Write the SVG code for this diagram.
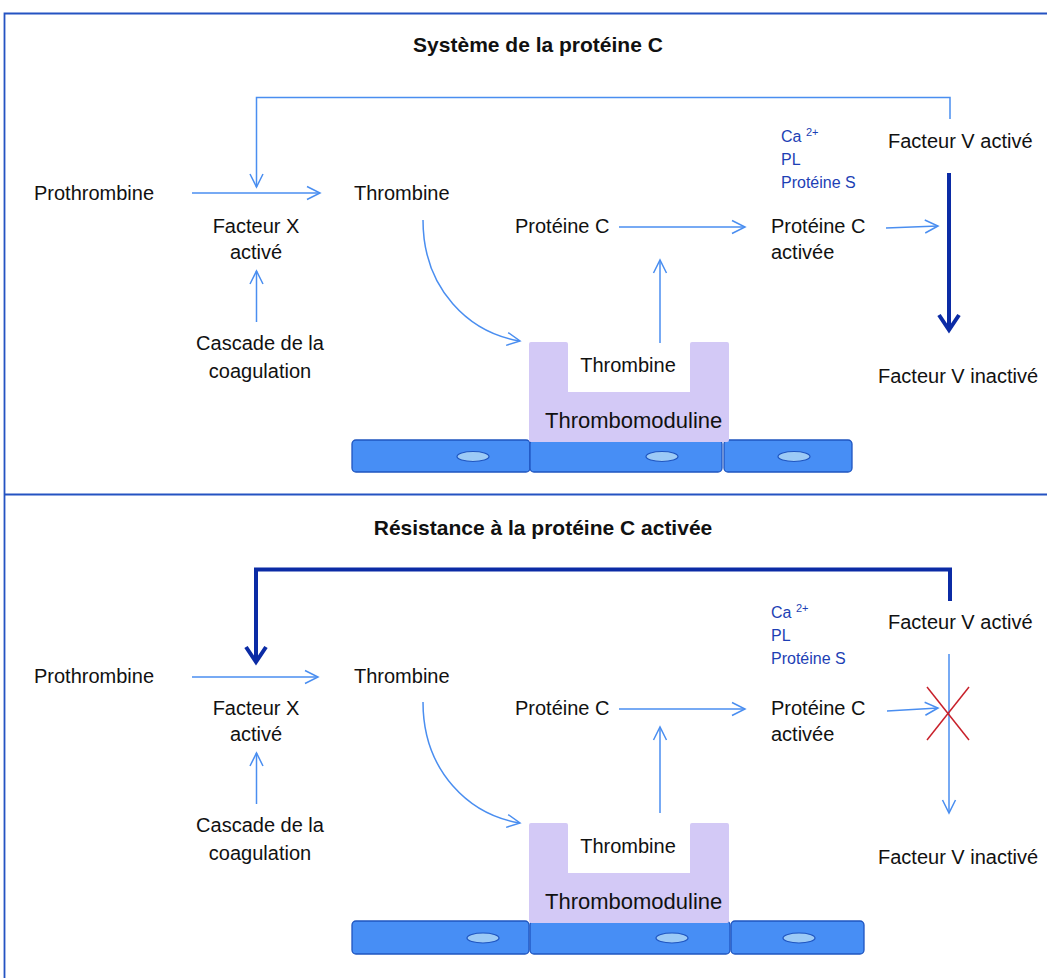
<svg xmlns="http://www.w3.org/2000/svg" width="1047" height="978" viewBox="0 0 1047 978">
<style>
.t{font-family:"Liberation Sans",Arial,sans-serif;font-size:20px;fill:#111}
.title{font-family:"Liberation Sans",Arial,sans-serif;font-size:21px;font-weight:bold;fill:#111;text-anchor:middle}
.c{text-anchor:middle}
.co{font-family:"Liberation Sans",Arial,sans-serif;font-size:16px;fill:#1d3fb5}
.sup{font-size:11px}
.thin{fill:none;stroke:#4a8ef0;stroke-width:1.5}
.thick{fill:none;stroke:#0b2ba5;stroke-width:4}
.frame{fill:none;stroke:#2453c2;stroke-width:1.8}
.cell{fill:#478ef5;stroke:#1f55c0;stroke-width:1.3}
.nuc{fill:#9ccaf6;stroke:#1f55c0;stroke-width:1.2}
.tm{fill:#d3c9f6}
.cross{stroke:#c8202a;stroke-width:1.5}
</style>
<defs>
<marker id="a" markerUnits="userSpaceOnUse" markerWidth="16" markerHeight="16" viewBox="0 0 16 16" refX="14" refY="8" orient="auto">
<path d="M1,1.5 L14,8 L1,14.5" fill="none" stroke="#4a8ef0" stroke-width="1.5"/>
</marker>
<marker id="ak" markerUnits="userSpaceOnUse" markerWidth="22" markerHeight="24" viewBox="0 0 22 24" refX="18" refY="12" orient="auto">
<path d="M3,2 L18,12 L3,22" fill="none" stroke="#0b2ba5" stroke-width="4"/>
</marker>
</defs>

<g id="frame">
<path class="frame" d="M4.5,978 V13.5 H1047"/>
<line class="frame" x1="4.5" y1="494.5" x2="1047" y2="494.5"/>
</g>

<!-- TOP PANEL -->
<g id="top-panel">
<text class="title" x="538" y="52">Système de la protéine C</text>

<g id="connectors-top">
<path class="thin" d="M950,119 V97.5 H256.5 V187" marker-end="url(#a)"/>
<line class="thin" x1="192" y1="193" x2="320" y2="193" marker-end="url(#a)"/>
<line class="thin" x1="256.5" y1="322" x2="256.5" y2="271" marker-end="url(#a)"/>
<path class="thin" d="M423,220 C423,290 470,333 520,341" marker-end="url(#a)"/>
<line class="thin" x1="619" y1="227" x2="745" y2="227" marker-end="url(#a)"/>
<line class="thin" x1="660" y1="343" x2="660" y2="260" marker-end="url(#a)"/>
<line class="thin" x1="886" y1="228" x2="938" y2="226" marker-end="url(#a)"/>
<line class="thick" x1="949" y1="173" x2="949" y2="330" marker-end="url(#ak)"/>
</g>

<g id="prothrombine-top"><text class="t" x="34" y="200">Prothrombine</text></g>
<g id="fxa-top"><text class="t c" x="256" y="233">Facteur X</text><text class="t c" x="256" y="259">activé</text></g>
<g id="cascade-top"><text class="t c" x="260" y="350">Cascade de la</text><text class="t c" x="260" y="378">coagulation</text></g>
<g id="thrombine-top"><text class="t" x="354" y="200">Thrombine</text></g>
<g id="proteinec-top"><text class="t" x="515" y="233">Protéine C</text></g>
<g id="pca-top"><text class="t" x="771" y="233">Protéine C</text><text class="t" x="771" y="259">activée</text></g>
<g id="cofactors-top"><text class="co" x="781" y="142">Ca <tspan class="sup" dy="-6">2+</tspan></text><text class="co" x="781" y="165">PL</text><text class="co" x="781" y="188">Protéine S</text></g>
<g id="fva-top"><text class="t" x="888" y="148">Facteur V activé</text></g>
<g id="fvi-top"><text class="t" x="878" y="383">Facteur V inactivé</text></g>

<g id="cells-top">
<rect class="cell" x="352" y="440" width="178" height="32" rx="4"/>
<rect class="cell" x="530" y="440" width="192" height="32" rx="4"/>
<rect class="cell" x="724" y="440" width="128" height="32" rx="4"/>
<ellipse class="nuc" cx="473" cy="456.5" rx="16" ry="5"/>
<ellipse class="nuc" cx="662" cy="456.5" rx="16" ry="5"/>
<ellipse class="nuc" cx="794" cy="456.5" rx="16" ry="5"/>
</g>
<g id="thrombomoduline-top">
<path class="tm" d="M531,342 H566 Q568,342 568,344 V392 H690 V344 Q690,342 692,342 H727 Q729,342 729,344 V440 Q729,442 727,442 H531 Q529,442 529,440 V344 Q529,342 531,342 Z"/>
<text class="t c" x="628" y="372">Thrombine</text>
<text class="t" x="545" y="428" style="font-size:22px">Thrombomoduline</text>
</g>
</g>

<!-- BOTTOM PANEL -->
<g id="bottom-panel">
<text class="title" x="543" y="535">Résistance à la protéine C activée</text>

<g id="connectors-bottom">
<path class="thick" d="M950,601 V569.5 H256 V662" marker-end="url(#ak)"/>
<line class="thin" x1="192" y1="677" x2="318" y2="677" marker-end="url(#a)"/>
<line class="thin" x1="256.5" y1="804" x2="256.5" y2="753" marker-end="url(#a)"/>
<path class="thin" d="M423,702 C423,772 470,815 520,823" marker-end="url(#a)"/>
<line class="thin" x1="619" y1="709" x2="745" y2="709" marker-end="url(#a)"/>
<line class="thin" x1="660" y1="813" x2="660" y2="727" marker-end="url(#a)"/>
<line class="thin" x1="887" y1="711" x2="938" y2="708" marker-end="url(#a)"/>
<line class="thin" x1="949" y1="654" x2="949" y2="813" marker-end="url(#a)"/>
<line class="cross" x1="927" y1="687" x2="969" y2="740"/>
<line class="cross" x1="969" y1="687" x2="927" y2="740"/>
</g>

<g id="prothrombine-bottom"><text class="t" x="34" y="683">Prothrombine</text></g>
<g id="fxa-bottom"><text class="t c" x="256" y="715">Facteur X</text><text class="t c" x="256" y="741">activé</text></g>
<g id="cascade-bottom"><text class="t c" x="260" y="832">Cascade de la</text><text class="t c" x="260" y="860">coagulation</text></g>
<g id="thrombine-bottom"><text class="t" x="354" y="683">Thrombine</text></g>
<g id="proteinec-bottom"><text class="t" x="515" y="715">Protéine C</text></g>
<g id="pca-bottom"><text class="t" x="771" y="715">Protéine C</text><text class="t" x="771" y="741">activée</text></g>
<g id="cofactors-bottom"><text class="co" x="771" y="618">Ca <tspan class="sup" dy="-6">2+</tspan></text><text class="co" x="771" y="641">PL</text><text class="co" x="771" y="664">Protéine S</text></g>
<g id="fva-bottom"><text class="t" x="888" y="629">Facteur V activé</text></g>
<g id="fvi-bottom"><text class="t" x="878" y="864">Facteur V inactivé</text></g>

<g id="cells-bottom">
<rect class="cell" x="352" y="921" width="177" height="33" rx="4"/>
<rect class="cell" x="530" y="921" width="200" height="33" rx="4"/>
<rect class="cell" x="731" y="921" width="133" height="33" rx="4"/>
<ellipse class="nuc" cx="483" cy="938" rx="16" ry="5"/>
<ellipse class="nuc" cx="672" cy="938" rx="16" ry="5"/>
<ellipse class="nuc" cx="799" cy="938" rx="16" ry="5"/>
</g>
<g id="thrombomoduline-bottom">
<path class="tm" d="M531,823 H566 Q568,823 568,825 V873 H690 V825 Q690,823 692,823 H727 Q729,823 729,825 V921 Q729,923 727,923 H531 Q529,923 529,921 V825 Q529,823 531,823 Z"/>
<text class="t c" x="628" y="853">Thrombine</text>
<text class="t" x="545" y="909" style="font-size:22px">Thrombomoduline</text>
</g>
</g>
</svg>
